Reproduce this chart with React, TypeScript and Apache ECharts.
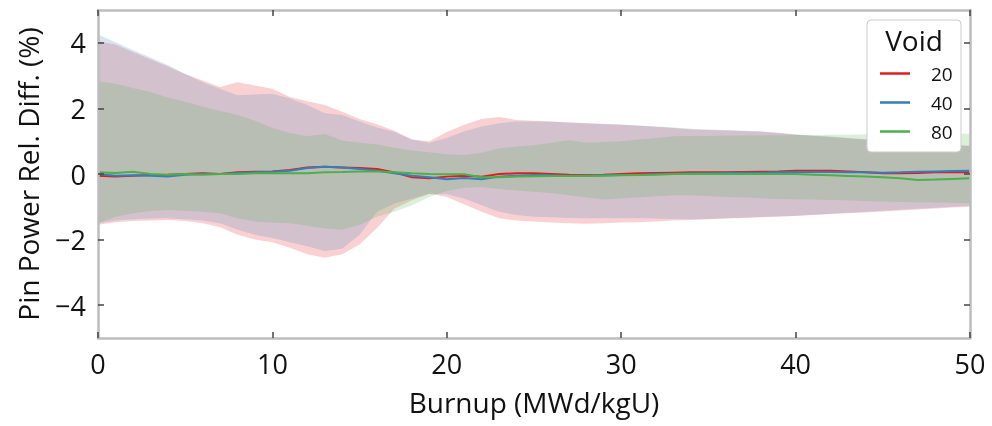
import React, { useEffect, useRef } from 'react';
import * as echarts from 'echarts';

const burnup = [0,1,2,3,4,5,6,7,8,9,10,11,12,13,14,15,16,17,18,19,20,21,22,23,24,25,26,27,28,29,30,31,32,33,34,35,36,37,38,39,40,41,42,43,44,45,46,47,48,49,50];

const redUpper = [4.05,3.95,3.72,3.50,3.28,3.05,2.85,2.65,2.80,2.70,2.60,2.35,2.22,2.10,1.90,1.68,1.52,1.32,1.05,1.00,1.28,1.50,1.68,1.74,1.65,1.62,1.60,1.57,1.55,1.52,1.50,1.47,1.44,1.40,1.36,1.34,1.33,1.31,1.29,1.25,1.20,1.16,1.13,1.09,1.05,1.02,0.98,0.95,0.91,0.88,0.85];
const redLower = [-1.55,-1.47,-1.43,-1.42,-1.40,-1.43,-1.50,-1.62,-1.85,-2.00,-2.08,-2.25,-2.45,-2.55,-2.45,-2.15,-1.65,-1.05,-0.80,-0.60,-0.70,-0.92,-1.15,-1.35,-1.42,-1.45,-1.48,-1.50,-1.52,-1.50,-1.48,-1.47,-1.45,-1.42,-1.40,-1.38,-1.36,-1.34,-1.32,-1.30,-1.28,-1.25,-1.22,-1.20,-1.17,-1.14,-1.11,-1.08,-1.05,-1.02,-1.00];
const redMean = [-0.05,-0.08,-0.05,-0.03,-0.02,0.00,0.02,0.00,0.05,0.07,0.08,0.12,0.20,0.22,0.20,0.18,0.15,0.05,-0.10,-0.13,-0.08,-0.05,-0.08,0.00,0.02,0.02,0.00,-0.02,-0.03,-0.02,0.00,0.02,0.03,0.04,0.05,0.05,0.05,0.06,0.07,0.08,0.10,0.10,0.10,0.08,0.05,0.02,0.02,0.03,0.05,0.06,0.05];

const blueUpper = [4.25,4.02,3.78,3.55,3.32,3.05,2.80,2.60,2.40,2.42,2.45,2.30,2.10,1.85,1.80,1.60,1.42,1.28,1.05,0.95,1.10,1.30,1.45,1.55,1.60,1.60,1.59,1.57,1.55,1.53,1.51,1.48,1.45,1.42,1.38,1.36,1.34,1.32,1.30,1.26,1.21,1.17,1.14,1.10,1.06,1.03,0.99,0.96,0.92,0.89,0.86];
const blueLower = [-1.50,-1.42,-1.38,-1.36,-1.35,-1.38,-1.42,-1.50,-1.70,-1.85,-1.95,-2.08,-2.20,-2.35,-2.28,-1.85,-1.15,-0.90,-0.75,-0.60,-0.62,-0.75,-0.95,-1.15,-1.25,-1.30,-1.32,-1.34,-1.35,-1.35,-1.35,-1.35,-1.36,-1.37,-1.38,-1.37,-1.35,-1.33,-1.31,-1.29,-1.27,-1.24,-1.21,-1.18,-1.15,-1.12,-1.09,-1.06,-1.03,-1.00,-0.97];
const blueMean = [0.00,-0.05,-0.04,-0.05,-0.08,-0.02,0.00,0.00,0.03,0.05,0.07,0.10,0.18,0.22,0.20,0.15,0.10,0.02,-0.05,-0.10,-0.16,-0.12,-0.16,-0.08,-0.05,-0.03,-0.04,-0.05,-0.05,-0.04,-0.03,-0.02,0.00,0.01,0.02,0.02,0.03,0.04,0.04,0.05,0.06,0.06,0.06,0.05,0.05,0.04,0.05,0.07,0.08,0.09,0.10];

const greenUpper = [2.82,2.75,2.62,2.50,2.33,2.20,2.05,1.92,1.80,1.62,1.40,1.25,1.15,1.22,1.02,0.95,0.90,0.80,0.72,0.66,0.60,0.58,0.65,0.78,0.84,0.88,0.95,1.03,0.95,0.97,1.00,1.05,1.10,1.15,1.16,1.16,1.17,1.17,1.18,1.18,1.19,1.19,1.20,1.20,1.21,1.21,1.22,1.22,1.22,1.23,1.23];
const greenLower = [-1.50,-1.30,-1.20,-1.13,-1.10,-1.12,-1.15,-1.20,-1.35,-1.45,-1.48,-1.50,-1.58,-1.66,-1.70,-1.55,-1.30,-1.15,-0.95,-0.70,-0.52,-0.42,-0.40,-0.46,-0.50,-0.54,-0.58,-0.65,-0.72,-0.78,-0.75,-0.72,-0.68,-0.65,-0.65,-0.67,-0.70,-0.72,-0.74,-0.76,-0.77,-0.78,-0.79,-0.80,-0.82,-0.84,-0.85,-0.86,-0.87,-0.88,-0.89];
const greenMean = [0.05,0.03,0.07,0.00,-0.02,0.00,-0.02,0.00,0.00,0.02,0.02,0.02,0.02,0.05,0.06,0.08,0.08,0.05,0.02,0.00,-0.01,-0.01,-0.10,-0.10,-0.08,-0.07,-0.06,-0.06,-0.05,-0.05,-0.04,-0.03,-0.02,0.00,0.00,0.00,0.00,0.00,0.00,0.00,0.00,-0.02,-0.04,-0.06,-0.08,-0.10,-0.13,-0.18,-0.17,-0.15,-0.13];

const xTicks = [0, 10, 20, 30, 40, 50];
const yTicks = [-4, -2, 0, 2, 4];
const voids = ['20', '40', '80'];
const colors = ['#e41a1c', '#377eb8', '#4daf4a'];
const bandFills = ['rgba(228,26,28,0.2)', 'rgba(55,126,184,0.2)', 'rgba(77,175,74,0.2)'];

const FONT = '"Open Sans", "Noto Sans", sans-serif';

export default function App() {
  const ref = useRef<HTMLDivElement>(null);
  useEffect(() => {
    const chart = echarts.init(ref.current as HTMLDivElement, null, { renderer: 'svg' });
    const uppers = [redUpper, blueUpper, greenUpper];
    const lowers = [redLower, blueLower, greenLower];
    const means = [redMean, blueMean, greenMean];

    const bands = voids.map((v, k) => ({
      type: 'custom',
      name: 'band' + v,
      silent: true,
      z: 2,
      clip: true,
      data: [[0, 0]],
      renderItem: (_params: any, api: any) => {
        const pts: number[][] = [];
        for (let i = 0; i < burnup.length; i++) pts.push(api.coord([burnup[i], uppers[k][i]]));
        for (let i = burnup.length - 1; i >= 0; i--) pts.push(api.coord([burnup[i], lowers[k][i]]));
        return { type: 'polygon', shape: { points: pts }, style: { fill: bandFills[k] } };
      },
    }));

    const lines = voids.map((v, k) => ({
      type: 'line',
      name: v,
      z: 3,
      showSymbol: false,
      symbol: 'none',
      color: colors[k],
      lineStyle: { color: colors[k], width: 2 },
      data: burnup.map((b, i) => [b, means[k][i]]),
    }));

    const axisLine = { show: true, onZero: false, lineStyle: { color: '#bdbdbd', width: 2.5 } };
    const axisTick = { show: true, inside: true, length: 6, lineStyle: { color: '#444', width: 1.5 } };

    chart.setOption({
      animation: false,
      textStyle: { fontFamily: FONT },
      grid: { left: 98, right: 22, top: 10, bottom: 88, containLabel: false },
      xAxis: [
        {
          type: 'value', position: 'bottom', min: 0, max: 50, interval: 10, z: 10,
          axisLine, axisTick: { ...axisTick, customValues: xTicks },
          splitLine: { show: false },
          axisLabel: { customValues: xTicks, margin: 12, fontSize: 27, color: '#111', fontFamily: FONT },
          name: 'Burnup (MWd/kgU)', nameLocation: 'middle', nameGap: 50,
          nameTextStyle: { fontSize: 28, color: '#111', fontFamily: FONT },
        },
        {
          type: 'value', position: 'top', min: 0, max: 50, interval: 10, z: 10,
          axisLine, axisTick: { ...axisTick, customValues: xTicks },
          splitLine: { show: false }, axisLabel: { show: false },
        },
      ],
      yAxis: [
        {
          type: 'value', position: 'left', min: -5, max: 5, z: 10,
          axisLine, axisTick: { ...axisTick, customValues: yTicks },
          splitLine: { show: false },
          axisLabel: {
            customValues: yTicks, margin: 12, fontSize: 27, color: '#111', fontFamily: FONT,
            formatter: (v: number) => (v < 0 ? '\u2212' + Math.abs(v) : String(v)),
          },
          name: 'Pin Power Rel. Diff. (%)', nameLocation: 'middle', nameGap: 56, nameRotate: 90,
          nameTextStyle: { fontSize: 28, color: '#111', fontFamily: FONT },
        },
        {
          type: 'value', position: 'right', min: -5, max: 5, z: 10,
          axisLine, axisTick: { ...axisTick, customValues: yTicks },
          splitLine: { show: false }, axisLabel: { show: false },
        },
      ],
      legend: {
        data: voids,
        orient: 'vertical',
        left: 880,
        top: 64,
        padding: 0,
        itemGap: 10,
        itemWidth: 30,
        itemHeight: 2.5,
        icon: 'rect',
        z: 20,
        selectedMode: false,
        textStyle: { fontSize: 19, color: '#111', fontFamily: FONT, padding: [0, 0, 0, 16], lineHeight: 19 },
      },
      graphic: [
        {
          type: 'rect', z: 15, silent: true,
          shape: { x: 867, y: 20, width: 94, height: 132, r: 4 },
          style: { fill: '#ffffff', stroke: '#cccccc', lineWidth: 1 },
        },
        {
          type: 'text', z: 16, silent: true, x: 914, y: 40,
          style: { text: 'Void', font: '28px ' + FONT, fill: '#111', align: 'center', verticalAlign: 'middle' },
        },
      ],
      series: [...bands, ...lines],
    });
    return () => chart.dispose();
  }, []);
  return <div ref={ref} style={{ position: 'fixed', left: 0, top: 0, width: 992, height: 426 }} />;
}
